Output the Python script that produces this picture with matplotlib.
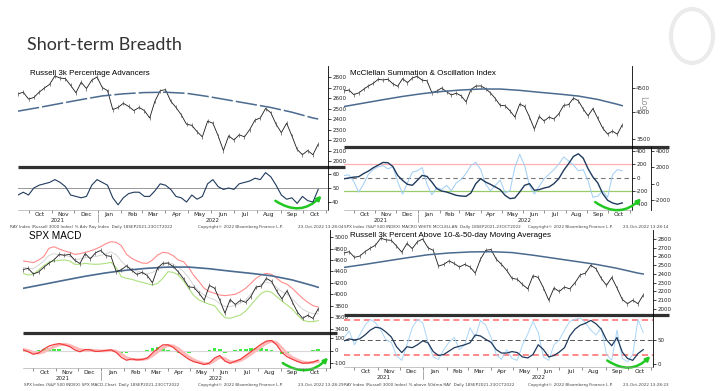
import matplotlib
matplotlib.use("Agg")
import matplotlib.pyplot as plt
import matplotlib.dates as mdates
from matplotlib.patches import Ellipse, FancyArrowPatch
from matplotlib.ticker import NullFormatter, FixedLocator, FixedFormatter, NullLocator
import pandas as pd

# weekly closes, 17-Sep-2021 .. 21-Oct-2022
weeks = pd.date_range("2021-09-17", "2022-10-21", freq="W-FRI")

ray = [2640, 2655, 2590, 2605, 2655, 2695, 2730, 2810, 2790, 2785,
       2720, 2650, 2750, 2690, 2770, 2800, 2700, 2670, 2490, 2510,
       2550, 2520, 2480, 2510, 2480, 2410, 2570, 2670, 2680, 2570,
       2510, 2440, 2350, 2340, 2280, 2230, 2380, 2360, 2240, 2100,
       2240, 2200, 2250, 2230, 2300, 2390, 2410, 2500, 2460, 2350,
       2270, 2360, 2240, 2110, 2060, 2100, 2060, 2160]
spx = [4433, 4455, 4357, 4391, 4471, 4545, 4605, 4697, 4682, 4698,
       4595, 4538, 4712, 4620, 4726, 4766, 4677, 4662, 4398, 4432,
       4500, 4419, 4349, 4385, 4329, 4204, 4463, 4543, 4546, 4488,
       4393, 4272, 4132, 4123, 4023, 3901, 4158, 4109, 3901, 3675,
       3912, 3825, 3899, 3863, 3962, 4130, 4145, 4280, 4228, 4058,
       3924, 4067, 3873, 3693, 3586, 3639, 3583, 3752]

# 200-day moving averages, every 4th week + last
ma_idx = [0, 4, 8, 12, 16, 20, 24, 28, 32, 36, 40, 44, 48, 52, 56, 57]
ray_ma = [2475, 2510, 2548, 2585, 2620, 2640, 2652, 2655, 2645, 2615, 2580, 2545, 2510, 2465, 2410, 2400]
spx_ma = [4107, 4177, 4248, 4317, 4376, 4423, 4456, 4477, 4477, 4448, 4406, 4368, 4325, 4253, 4153, 4125]

adv_pct = [45, 47, 45, 50, 52, 53, 54, 56, 54, 51, 45, 44, 43, 44, 52, 56, 54, 52, 43, 38,
           43, 46, 47, 47, 44, 44, 48, 53, 52, 49, 44, 43, 40, 45, 42, 44, 53, 56, 51, 49,
           50, 49, 53, 54, 55, 57, 56, 61, 58, 52, 45, 42, 43, 39, 44, 41, 40, 49]

summation = [600, 700, 800, 850, 1230, 1540, 1950, 2270, 2600, 2560,
             2110, 1010, 400, -80, -200, 400, 1010, 890, 200, -610,
             -900, -1020, -1220, -1430, -1510, -1550, -1140, 0, 610, 200,
             -80, -400, -730, -1430, -1830, -1750, -1020, -200, 0, -810,
             -730, -530, -400, 0, 610, 1630, 2440, 3330, 3660, 3130,
             1830, 810, 80, -1220, -2030, -2360, -2520, -2360]
oscillator = [30, 40, -60, -220, -100, 50, 120, 160, 180, 130,
              160, -60, -250, -80, 80, 100, 150, -100, -260, -150,
              -180, -120, -200, -80, -30, 60, 180, 230, 120, -100,
              -200, -120, -40, -230, -200, 150, 350, 180, -120, -250,
              -130, -20, 50, 120, 200, 310, 250, 190, 100, 120,
              -50, -300, -280, -200, -300, 40, 120, 100]

band_up = [4583, 4571, 4554, 4600, 4658, 4803, 4832, 4791, 4757, 4733,
           4698, 4710, 4733, 4757, 4791, 4832, 4884, 4919, 4907, 4849,
           4698, 4629, 4583, 4548, 4542, 4600, 4687, 4733, 4722, 4675,
           4600, 4571, 4467, 4328, 4223, 4107, 4049, 4020, 3991, 3980,
           3991, 4003, 4049, 4107, 4194, 4281, 4339, 4368, 4351, 4281,
           4212, 4177, 4107, 4020, 3933, 3864, 3806, 3782]
band_mid = [4470, 4455, 4450, 4510, 4580, 4680, 4710, 4690, 4680, 4660,
            4610, 4620, 4640, 4645, 4660, 4680, 4710, 4740, 4690, 4580,
            4490, 4450, 4410, 4380, 4365, 4380, 4440, 4510, 4560, 4530,
            4470, 4400, 4290, 4150, 4060, 3990, 3940, 3910, 3840, 3790,
            3790, 3810, 3850, 3910, 4005, 4100, 4180, 4215, 4195, 4120,
            4050, 4000, 3930, 3830, 3745, 3695, 3665, 3665]
band_lo = [4368, 4339, 4351, 4426, 4501, 4559, 4583, 4594, 4600, 4583,
           4525, 4525, 4542, 4530, 4525, 4530, 4542, 4559, 4467, 4310,
           4281, 4264, 4235, 4212, 4188, 4165, 4194, 4281, 4397, 4385,
           4339, 4235, 4107, 3980, 3904, 3864, 3829, 3806, 3690, 3597,
           3585, 3614, 3643, 3713, 3817, 3922, 4020, 4061, 4038, 3962,
           3887, 3817, 3748, 3643, 3556, 3527, 3527, 3545]

macd = [5, -10, -30, -20, 10, 35, 48, 55, 45, 32, 5, -10, 8, 5, -8, -5, 0, 5, -15, -55,
        -78, -68, -75, -72, -60, -20, 15, 45, 46, 25, -10, -40, -70, -90, -100, -112, -100, -60, -40, -85,
        -103, -85, -70, -40, -10, 20, 50, 75, 80, 45, -15, -50, -70, -88, -102, -100, -92, -78]
signal = [10, 0, -15, -22, -12, 10, 30, 45, 50, 42, 25, 8, 0, 3, 0, -3, -2, 2, -5, -30,
          -58, -70, -72, -72, -66, -42, -10, 22, 40, 38, 15, -18, -50, -75, -92, -105, -105, -82, -55, -65,
          -90, -92, -80, -58, -30, 0, 30, 58, 74, 62, 20, -25, -55, -75, -92, -98, -96, -88]
hist = [-5, -10, -12, 5, 15, 20, 15, 10, -5, -10, -15, -12, 6, 4, -6, -2, 2, 3, -10, -22,
        -18, -5, -4, 0, 8, 20, 25, 22, 8, -12, -22, -20, -18, -14, -8, -7, 5, 20, 15, -18,
        -13, 7, 10, 15, 18, 18, 18, 15, 6, -15, -30, -25, -15, -13, -10, -2, 4, 10]

pct_50d = [48, 52, 50, 52, 60, 70, 76, 74, 66, 56, 36, 24, 36, 34, 40, 48, 44, 26, 18, 20,
           27, 34, 37, 40, 44, 60, 58, 51, 45, 30, 23, 23, 26, 24, 15, 13, 20, 40, 30, 15,
           18, 25, 34, 58, 72, 80, 84, 90, 83, 72, 50, 38, 55, 25, 12, 8, 22, 30]
pct_10d = [55, 68, 40, 60, 80, 92, 85, 70, 50, 45, 18, 8, 40, 75, 92, 85, 45, 15, 10, 30,
           45, 55, 30, 40, 75, 55, 90, 80, 55, 20, 10, 30, 12, 8, 40, 62, 88, 65, 15, 8,
           40, 50, 70, 88, 92, 95, 85, 70, 60, 75, 20, 8, 70, 12, 5, 20, 92, 65]

# hand-drawn green arrows: (start date, value), (end date, value)
arrow_tl = (("2022-08-22", 42), ("2022-10-28", 46))
arrow_tr = (("2022-09-09", -2050), ("2022-11-20", -1560))   # summation-axis units
arrow_bl = (("2022-08-31", -88), ("2022-11-06", -40))
arrow_br = (("2022-08-31", 11), ("2022-11-02", 21))

W, H = 720, 391
NAVY = "#1f3a5c"
MA_C = "#4a6a8f"
fig = plt.figure(figsize=(W / 100, H / 100), dpi=100)
fig.patch.set_facecolor("white")
ma_dates = weeks[ma_idx]
START = pd.Timestamp("2021-09-17")


def px_axes(x0, y0, x1, y1):
    return fig.add_axes([x0 / W, 1 - y1 / H, (x1 - x0) / W, (y1 - y0) / H])


def style(ax, ticks, fs=4.0):
    for s in ("left", "top", "bottom"):
        ax.spines[s].set_visible(False)
    ax.spines["right"].set_linewidth(0.6)
    ax.yaxis.tick_right()
    ax.yaxis.set_major_locator(FixedLocator(ticks))
    ax.yaxis.set_major_formatter(FixedFormatter([str(t) for t in ticks]))
    ax.yaxis.set_minor_locator(NullLocator())
    ax.tick_params(axis="y", labelsize=fs, length=2, width=0.6, pad=1, colors="#222")
    ax.tick_params(axis="x", which="both", bottom=False, labelbottom=False)
    ax.set_facecolor("none")


def date_axis(ax, end):
    ax.spines["bottom"].set_visible(True)
    ax.spines["bottom"].set_linewidth(0.4)
    ax.spines["bottom"].set_color("#999")
    ax.xaxis.set_major_locator(mdates.MonthLocator())
    ax.xaxis.set_major_formatter(NullFormatter())
    ax.xaxis.set_minor_locator(mdates.MonthLocator(bymonthday=16))
    ax.xaxis.set_minor_formatter(mdates.DateFormatter("%b"))
    ax.tick_params(axis="x", which="major", bottom=True, length=2.5, width=0.5, color="#666")
    ax.tick_params(axis="x", which="minor", bottom=True, labelbottom=True, length=0,
                   labelsize=4.2, pad=1.5, colors="#222")
    y0 = pd.Timestamp("2022-01-01")
    for txt, d in (("2021", START + (y0 - START) / 2), ("2022", y0 + (end - y0) / 2)):
        ax.annotate(txt, xy=(d, 0), xycoords=("data", "axes fraction"),
                    xytext=(0, -7.4), textcoords="offset points",
                    ha="center", va="center", fontsize=4.0, color="#222")
    h = ax.bbox.height
    ax.plot([y0, y0], [-4 / h, -12 / h], transform=ax.get_xaxis_transform(),
            clip_on=False, color="#888", lw=0.5)


def separator(ax, x0, x1, x_end):
    ax.plot([0, (x_end - x0) / (x1 - x0)], [0, 0], transform=ax.transAxes,
            clip_on=False, color="#303030", lw=2.3, solid_capstyle="butt")


def green_arrow(ax, spec):
    (d0, v0), (d1, v1) = spec
    a = FancyArrowPatch((mdates.datestr2num(d0), v0), (mdates.datestr2num(d1), v1),
                        connectionstyle="arc3,rad=0.45", arrowstyle="-|>",
                        mutation_scale=6, color="#22c822", lw=1.8, clip_on=False)
    ax.add_patch(a)


def price(ax, vals):
    ax.plot(weeks, vals, color="#1a1a1a", lw=0.6, marker="|", ms=3.2, mew=0.5, mec="#555")


# ---------------- top-left: Russell 3k % advancers ----------------
end_tl = pd.Timestamp("2022-11-03")
ax = px_axes(18, 66, 328, 167)
price(ax, ray)
ax.plot(ma_dates, ray_ma, color=MA_C, lw=1.1, dashes=(14, 2))
ax.set_ylim(1943, 2905)
ax.set_xlim(START, end_tl)
style(ax, list(range(2000, 2801, 100)))
separator(ax, 18, 328, 345)
ax.text(0.04, 0.93, "Russell 3k Percentage Advancers", transform=ax.transAxes,
        fontsize=5.8, family="Liberation Sans", va="center")

ax = px_axes(18, 167, 328, 210)
ax.axhline(50, color="#888", lw=0.6)
ax.plot(weeks, adv_pct, color=NAVY, lw=0.8)
ax.set_ylim(34.3, 65)
ax.set_xlim(START, end_tl)
style(ax, [40, 50, 60])
date_axis(ax, end_tl)
green_arrow(ax, arrow_tl)

# ---------------- top-right: McClellan ----------------
end_tr = pd.Timestamp("2022-11-04")
ax = px_axes(344, 66, 632, 147)
price(ax, spx)
ax.plot(ma_dates, spx_ma, color=MA_C, lw=1.1)
ax.set_yscale("log")
ax.set_ylim(3365, 5015)
ax.set_xlim(START, end_tr)
style(ax, [3500, 4000, 4500])
separator(ax, 344, 632, 669)
ax.text(0.02, 0.91, "McClellan Summation & Oscillation Index", transform=ax.transAxes,
        fontsize=5.8, family="Liberation Sans", va="center")
fig.text(643 / W, 1 - 103 / H, "Log", rotation=270, fontsize=6, color="#999",
         ha="center", va="center")

ax = px_axes(344, 147, 632, 210)
ax2 = ax.twinx()
ax.axhline(200, color="#ffb0b0", lw=0.9)
ax.axhline(0, color="#777", lw=0.8, dashes=(4, 3))
ax.axhline(-200, color="#98cc6a", lw=0.9)
ax.plot(weeks, oscillator, color="#9fcdf4", lw=0.7)
ax.set_ylim(-490, 460)
ax.set_xlim(START, end_tr)
style(ax, [-400, -200, 0, 200, 400])
date_axis(ax, end_tr)
ax2.plot(weeks, summation, color=NAVY, lw=1.0)
ax2.set_ylim(-3224, 4490)
style(ax2, [-2000, 0, 2000, 4000])
ax2.spines["right"].set_position(("outward", 13.7))
ax2.set_xlim(START, end_tr)
ax.yaxis.tick_right()
green_arrow(ax2, arrow_tr)

# ---------------- bottom-left: SPX MACD ----------------
end_bl = pd.Timestamp("2022-11-06")
ax = px_axes(23, 230, 330, 333)
ax.plot(weeks, band_mid, color="#cfcfcf", lw=0.6)
ax.plot(weeks, band_up, color="#ff8c8c", lw=0.8)
ax.plot(weeks, band_lo, color="#ade07e", lw=0.8)
ax.plot(ma_dates, spx_ma, color=MA_C, lw=1.2)
price(ax, spx)
ax.set_ylim(3330, 5122)
ax.set_xlim(START, end_bl)
style(ax, list(range(3400, 5001, 200)))
separator(ax, 23, 330, 337)
ax.text(0.02, 0.94, "SPX MACD", transform=ax.transAxes, fontsize=7.2,
        family="Liberation Sans", va="center")

ax = px_axes(23, 333, 330, 368)
ax.axhline(0, color="#d8d8d8", lw=0.8)
ax.bar(weeks, hist, width=5, color="#3cec3c", lw=0)
ax.plot(weeks, signal, color="#ffb8b8", lw=2.0)
ax.plot(weeks, macd, color="#f03c3c", lw=0.9)
ax.set_ylim(-140, 140)
ax.set_xlim(START, end_bl)
style(ax, [-100, 0, 100])
date_axis(ax, end_bl)
green_arrow(ax, arrow_bl)

# ---------------- bottom-right: % above 10 & 50 dma ----------------
end_br = pd.Timestamp("2022-11-03")
ax = px_axes(344, 230, 653, 315)
price(ax, ray)
ax.plot(ma_dates, ray_ma, color=MA_C, lw=1.1)
ax.set_ylim(1931, 2903)
ax.set_xlim(START, end_br)
style(ax, list(range(2000, 2801, 100)))
separator(ax, 344, 653, 669)
ax.text(0.02, 0.94, "Russell 3k Percent Above 10-&-50-day Moving Averages",
        transform=ax.transAxes, fontsize=5.8, family="Liberation Sans", va="center")

ax = px_axes(344, 315, 653, 367)
for lvl in (90, 20):
    ax.axhline(lvl, color="#ff6a6a", lw=1.1, dashes=(4, 2.5))
ax.axhline(50, color="#555", lw=0.7, dashes=(5, 3))
ax.plot(weeks, pct_10d, color="#a9d5f8", lw=0.7)
ax.plot(weeks, pct_50d, color=NAVY, lw=0.9)
ax.set_ylim(-5.6, 101)
ax.set_xlim(START, end_br)
style(ax, [0, 50])
date_axis(ax, end_br)
green_arrow(ax, arrow_br)

# ---------------- footnotes ----------------
foot = dict(fontsize=3.0, color="#444", va="center", family="DejaVu Sans")
rows = [
    (227, 10, "RAY Index (Russell 3000 Index) % Adv Ray Index  Daily 18SEP2021-23OCT2022", 198, 298, "23-Oct-2022 13:28:04"),
    (227, 344, "SPX Index (S&P 500 INDEX) MACRO WHITE MCCLELLAN  Daily 18SEP2021-23OCT2022", 528, 623, "23-Oct-2022 13:28:14"),
    (385, 24, "SPX Index (S&P 500 INDEX) SPX MACD-Chart  Daily 18SEP2021-23OCT2022", 198, 298, "23-Oct-2022 13:28:29"),
    (385, 344, "RAY Index (Russell 3000 Index) % above 50dma RAY  Daily 18SEP2021-23OCT2022", 528, 623, "23-Oct-2022 13:28:23"),
]
for y, x0, left, xc, xd, stamp in rows:
    fig.text(x0 / W, 1 - y / H, left, **foot)
    fig.text(xc / W, 1 - y / H, "Copyright\u00a9 2022 Bloomberg Finance L.P.", **foot)
    fig.text(xd / W, 1 - y / H, stamp, **foot)

# ---------------- slide title and logo ----------------
fig.text(27 / W, 1 - 45 / H, "Short-term Breadth", fontsize=13, family="Lato",
         color="#333333", va="center")
fig.add_artist(Ellipse((692 / W, 1 - 36 / H), 42 / W, 54 / H, transform=fig.transFigure,
                       fill=False, ec="#ebebeb", lw=3))

fig.savefig("out.png", dpi=100)
